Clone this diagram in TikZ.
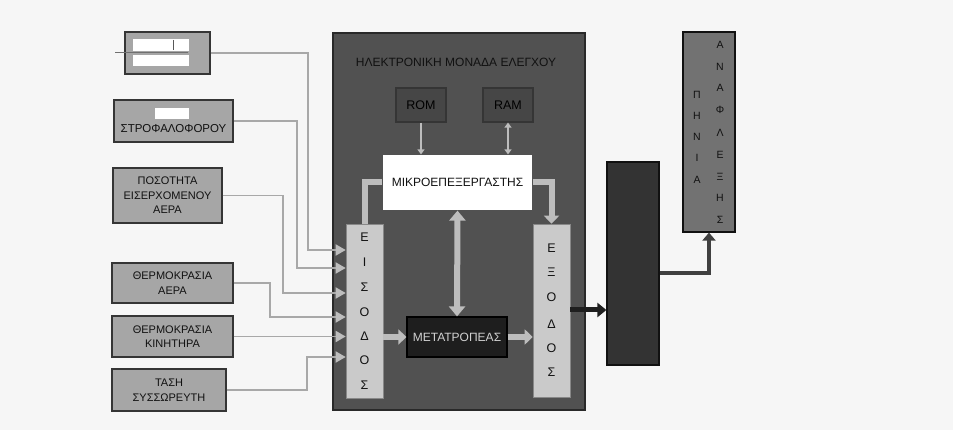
\documentclass[tikz,border=0pt]{standalone}
\usepackage{fontspec}
\setmainfont{Liberation Sans}
\usetikzlibrary{arrows.meta}
\definecolor{bg}{HTML}{F6F6F6}
\definecolor{ecu}{HTML}{515151}
\definecolor{sens}{HTML}{A6A6A6}
\definecolor{io}{HTML}{CACACA}
\definecolor{mem}{HTML}{464646}
\definecolor{conv}{HTML}{1E1E1E}
\definecolor{drv}{HTML}{333333}
\definecolor{coil}{HTML}{727272}
\definecolor{wire}{HTML}{A8A8A8}
\definecolor{harrow}{HTML}{BDBDBD}
\definecolor{ink}{HTML}{111111}
\begin{document}
\begin{tikzpicture}[x=1pt,y=-1pt,
  box/.style={draw=ink!85, line width=1.2pt, inner sep=0pt, align=center, text=ink,
    font=\fontsize{11}{14.5}\selectfont},
  sensor/.style={box, fill=sens},
  conn/.style={wire, line width=1.8pt,
    -{Triangle[width=11pt,length=10pt,color=harrow,fill=harrow]}},
  fat/.style={harrow, line width=6pt},
  fathead/.style={fat, -{Triangle[width=15pt,length=8pt]}},
  fatboth/.style={fat, {Triangle[width=16pt,length=10pt]}-{Triangle[width=16pt,length=10pt]}},
  memarrow/.style={harrow, line width=2.5pt, -{Triangle[width=7pt,length=5pt]}},
  memboth/.style={harrow, line width=2.5pt, {Triangle[width=7pt,length=5pt]}-{Triangle[width=7pt,length=5pt]}},
  letter/.style={inner sep=0pt, text=ink, font=\fontsize{12.5}{12.5}\selectfont},
  cletter/.style={inner sep=0pt, text=ink, font=\fontsize{10.5}{10.5}\selectfont},
]
\useasboundingbox[fill=bg] (0,0) rectangle (953,430);

% ---------------- sensors ----------------
\node[sensor, minimum width=85pt, minimum height=42pt] (s1) at (167.5,53) {};
\fill[white] (133,39) rectangle (189,51);
\fill[white] (133,55) rectangle (189,66);
\draw[ink!60, line width=1pt] (115,52.5) -- (188,52.5);
\draw[ink!70, line width=0.8pt] (173,40) -- (173,50);

\node[sensor, minimum width=119pt, minimum height=42pt] (s2) at (173.5,121) {};
\fill[white] (155,108) rectangle (189,119);
\node[inner sep=0pt, text=ink, font=\fontsize{11.5}{11.5}\selectfont] (s2t) at (173.5,129) {ΣΤΡΟΦΑΛΟΦΟΡΟΥ};

\node[sensor, minimum width=109pt, minimum height=55pt] (s3) at (167.5,195.5) {ΠΟΣΟΤΗΤΑ\\ΕΙΣΕΡΧΟΜΕΝΟΥ\\ΑΕΡΑ};
\node[sensor, minimum width=121pt, minimum height=40pt] (s4) at (172.5,283) {ΘΕΡΜΟΚΡΑΣΙΑ\\ΑΕΡΑ};
\node[sensor, minimum width=121pt, minimum height=41pt] (s5) at (172.5,336.5) {ΘΕΡΜΟΚΡΑΣΙΑ\\ΚΙΝΗΤΗΡΑ};
\node[sensor, minimum width=114pt, minimum height=42pt] (s6) at (169,390) {ΤΑΣΗ\\ΣΥΣΣΩΡΕΥΤΗ};

% ---------------- ECU ----------------
\node[draw=ink!90, line width=1.5pt, fill=ecu, inner sep=0pt,
      minimum width=252pt, minimum height=377pt] (ecu) at (459,221.5) {};
\node[inner sep=0pt, text=ink, font=\fontsize{12}{12}\selectfont] (title) at (456,62)
  {ΗΛΕΚΤΡΟΝΙΚΗ ΜΟΝΑΔΑ ΕΛΕΓΧΟΥ};
\node[box, fill=mem, minimum width=50pt, minimum height=34pt,
      font=\fontsize{12.5}{12.5}\selectfont, text=black] (rom) at (421,105) {ROM};
\node[box, fill=mem, minimum width=50pt, minimum height=34pt,
      font=\fontsize{12.5}{12.5}\selectfont, text=black] (ram) at (508,105) {RAM};
\node[box, draw=none, fill=white, minimum width=149pt, minimum height=55pt,
      font=\fontsize{12}{12}\selectfont] (mup) at (457.5,182.5) {ΜΙΚΡΟΕΠΕΞΕΡΓΑΣΤΗΣ};
\node[box, draw=ink!50, line width=0.6pt, fill=io, minimum width=37pt, minimum height=174pt] (eis) at (364.5,311) {};
\node[box, draw=ink!50, line width=0.6pt, fill=io, minimum width=37pt, minimum height=173pt] (exo) at (551.5,310.5) {};
\node[box, draw=black, fill=conv, minimum width=100pt, minimum height=40pt,
      text=white!82!black, font=\fontsize{12}{12}\selectfont] (met) at (457,337) {ΜΕΤΑΤΡΟΠΕΑΣ};

\foreach \l/\y [count=\i] in {Ε/237,Ι/262,Σ/287,Ο/312,Δ/336,Ο/360,Σ/385}
  \node[letter] (eisl\i) at (364.5,\y) {\l};
\foreach \l/\y [count=\i] in {Ε/248,Ξ/272,Ο/297,Δ/324,Ο/348,Σ/372}
  \node[letter] (exol\i) at (551.5,\y) {\l};

% internal arrows
\draw[memarrow] (rom.south) -- (rom.south |- mup.north);
\draw[memboth] (ram.south) -- (ram.south |- mup.north);
\draw[fat] (eis.north) |- (mup.west);
\draw[fathead] (mup.east) -| (exo.north);
\draw[fatboth] (mup.south) -- (met.north);
\draw[fathead] (eis.east |- met.west) -- (met.west);
\draw[fathead] (met.east) -- (exo.west |- met.east);

% ---------------- sensor connectors ----------------
\draw[conn] (s1.east) -| (308,250) -- (eis.west |- 0,250);
\draw[conn] (s2.east |- 0,121) -| (297,268) -- (eis.west |- 0,268);
\draw[conn] (s3.east) -| (283,293) -- (eis.west |- 0,293);
\draw[conn] (s4.east) -| (270,317) -- (eis.west |- 0,317);
\draw[conn] (s5.east) -- (eis.west |- s5.east);
\draw[conn] (s6.east) -| (307,357) -- (eis.west |- 0,357);

% ---------------- outputs ----------------
\node[draw=ink, line width=1.2pt, fill=drv, inner sep=0pt,
      minimum width=52pt, minimum height=203pt] (drv) at (633,263.5) {};
\node[draw=ink, line width=1.2pt, fill=coil, inner sep=0pt,
      minimum width=52pt, minimum height=200pt] (coil) at (709,132) {};
\foreach \l/\y [count=\i] in {Α/45,Ν/67,Α/88,Φ/110,Λ/133,Ε/155,Ξ/177,Η/198,Σ/220}
  \node[cletter] (cr\i) at (720,\y) {\l};
\foreach \l/\y [count=\i] in {Π/95,Η/116,Ν/137,Ι/158,Α/180}
  \node[cletter] (cl\i) at (697,\y) {\l};

\draw[black!88, line width=5pt, -{Triangle[width=14pt,length=9pt]}]
  (exo.east |- 0,310) -- (drv.west |- 0,310);
\draw[black!75, line width=4.5pt, -{Triangle[width=13pt,length=8pt]}]
  (drv.east |- 0,273) -| (coil.south);
\end{tikzpicture}
\end{document}
